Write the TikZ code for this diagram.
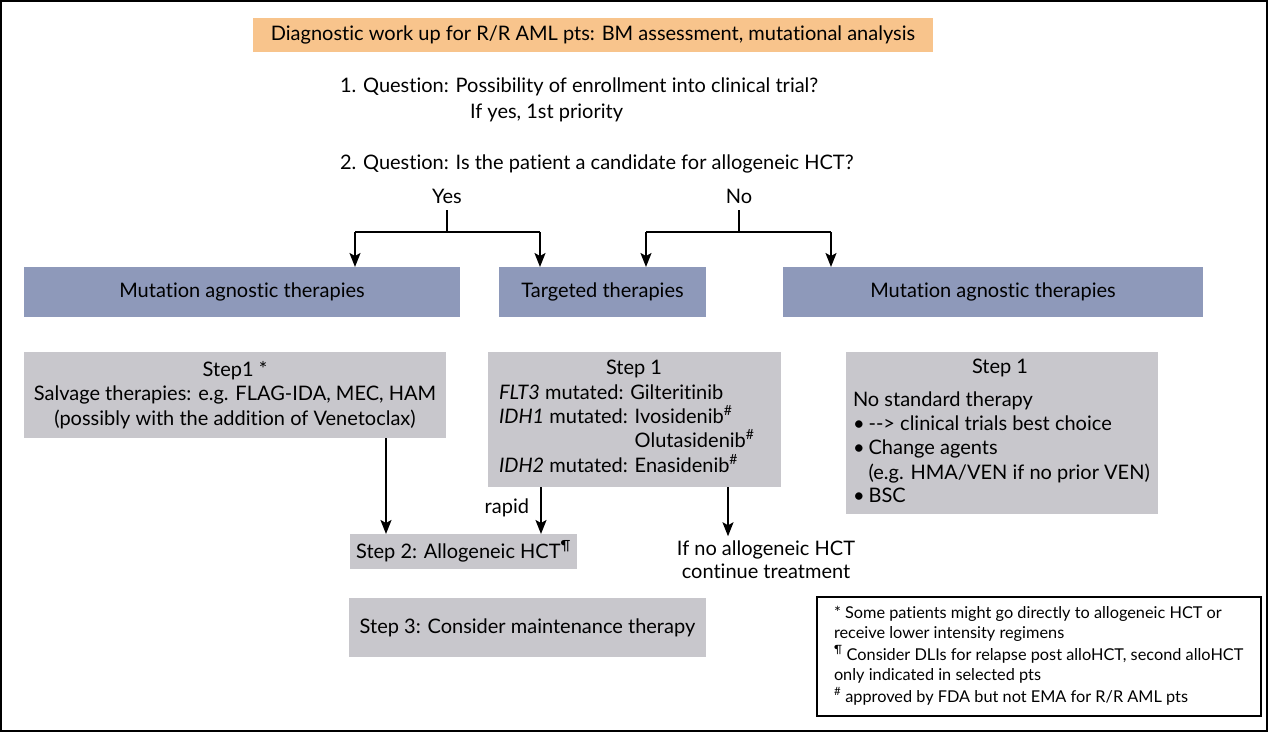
\documentclass[tikz,border=0pt]{standalone}
\usepackage{fontspec}
\setmainfont{Lato}[Ligatures={NoCommon}]
\usetikzlibrary{arrows.meta}
\definecolor{hdrc}{HTML}{F8C48C}
\definecolor{bluec}{HTML}{8E99BA}
\definecolor{greyc}{HTML}{C8C7CC}
\begin{document}
\begin{tikzpicture}[x=1pt,y=-1pt,
  every node/.style={inner sep=0pt,outer sep=0pt},
  mtxt/.style={font=\fontsize{20}{24.5}\selectfont},
  ftxt/.style={font=\fontsize{16.3}{20}\selectfont},
  hbox/.style={fill=hdrc,anchor=north west,mtxt},
  bbox/.style={fill=bluec,anchor=north west,mtxt,minimum height=50pt},
  gbox/.style={fill=greyc,anchor=north west,mtxt,align=center},
  link/.style={line width=1.8pt},
  arr/.style={line width=1.8pt,-{Stealth[length=14pt,width=11pt,inset=3pt]}}]
\useasboundingbox (0,0) rectangle (1270,733);
\draw[line width=1.4pt] (1,1) rectangle (1267,731);

% header and questions
\node[hbox,minimum width=680pt,minimum height=34pt] (hdr) at (253,18) {Diagnostic work up for R/R AML pts: BM assessment, mutational analysis};
\node[mtxt,anchor=base west] (q1) at (340,93) {1. Question: Possibility of enrollment into clinical trial?};
\node[mtxt,anchor=base west] (q1b) at (470,119) {If yes, 1st priority};
\node[mtxt,anchor=base west] (q2) at (340,170) {2. Question: Is the patient a candidate for allogeneic HCT?};
\node[mtxt,anchor=base] (yes) at (447,204) {Yes};
\node[mtxt,anchor=base] (no) at (739,204) {No};

% blue boxes
\node[bbox,minimum width=436pt] (mal) at (24,267) {Mutation agnostic therapies};
\node[bbox,minimum width=207pt] (tgt) at (499,267) {Targeted therapies};
\node[bbox,minimum width=420pt] (mar) at (783,267) {Mutation agnostic therapies};

% branch connectors
\coordinate (yj) at (447,232);
\coordinate (yl) at (355,232);
\coordinate (yr) at (540,232);
\coordinate (nj) at (739,232);
\coordinate (nl) at (646,232);
\coordinate (nr) at (831,232);
\draw[link,shorten <=6pt] (yes.south) -- (yj);
\draw[link] (yl) -- (yr);
\draw[arr] (yl) -- (yl |- mal.north);
\draw[arr] (yr) -- (yr |- tgt.north);
\draw[link,shorten <=6pt] (no.south) -- (nj);
\draw[link] (nl) -- (nr);
\draw[arr] (nl) -- (nl |- tgt.north);
\draw[arr] (nr) -- (nr |- mar.north);

% step 1 boxes
\node[gbox,minimum width=422pt,minimum height=86pt] (s1l) at (24,352) {Step1 *\\Salvage therapies: e.g. FLAG-IDA, MEC, HAM\\(possibly with the addition of Venetoclax)};
\node[gbox,minimum width=293pt,minimum height=135pt] (s1m) at (488,352) {};
\node[gbox,minimum width=312pt,minimum height=162pt] (s1r) at (846,352) {};

\node[mtxt,anchor=base] (m0) at (634,374) {Step 1};
\node[mtxt,anchor=base west] (m1) at (499,399) {\textit{FLT3} mutated: Gilteritinib};
\node[mtxt,anchor=base west] (m2) at (499,423) {\textit{IDH1} mutated: Ivosidenib\textsuperscript{\#}};
\node[mtxt,anchor=base west] (m3) at (499,447) {\phantom{\textit{IDH1} mutated: }Olutasidenib\textsuperscript{\#}};
\node[mtxt,anchor=base west] (m4) at (499,472) {\textit{IDH2} mutated: Enasidenib\textsuperscript{\#}};

\node[mtxt,anchor=base] (r0) at (1000,373) {Step 1};
\node[mtxt,anchor=base west] (r1) at (853,406) {No standard therapy};
\node[mtxt,anchor=base west] (r2) at (853,430) {•\hspace{4pt}\mbox{-}\mbox{-}> clinical trials best choice};
\node[mtxt,anchor=base west] (r3) at (853,454) {•\hspace{4pt}Change agents};
\node[mtxt,anchor=base west] (r4) at (853,479) {\phantom{•}\hspace{4pt}(e.g. HMA/VEN if no prior VEN)};
\node[mtxt,anchor=base west] (r5) at (853,502) {•\hspace{4pt}BSC};

% step 2, step 3
\node[gbox,minimum width=227pt,minimum height=35pt] (s2) at (350,534) {Step 2: Allogeneic HCT\textsuperscript{¶}};
\node[gbox,minimum width=357pt,minimum height=59pt] (s3) at (349,598) {Step 3: Consider maintenance therapy};

\node[mtxt,anchor=base] (c1) at (766,555) {If no allogeneic HCT};
\node[mtxt,anchor=base] (c2) at (766,578) {continue treatment};
\node[mtxt,anchor=base east] (rapid) at (529,513) {rapid};

\coordinate (a1) at (386,0);
\coordinate (a2) at (541,0);
\coordinate (a3) at (728,0);
\draw[arr] (s1l.south -| a1) -- (s2.north -| a1);
\draw[arr] (s1m.south -| a2) -- (s2.north -| a2);
\draw[arr,shorten >=4pt] (s1m.south -| a3) -- (c1.north -| a3);

% footnotes
\node[draw,line width=1.5pt,anchor=north west,minimum width=444pt,minimum height=119pt] (fn) at (817,597) {};
\node[ftxt,anchor=base west] (f1) at (834,618) {* Some patients might go directly to allogeneic HCT or};
\node[ftxt,anchor=base west] (f2) at (834,638) {receive lower intensity regimens};
\node[ftxt,anchor=base west] (f3) at (834,660) {\textsuperscript{¶} Consider DLIs for relapse post alloHCT, second alloHCT};
\node[ftxt,anchor=base west] (f4) at (834,680) {only indicated in selected pts};
\node[ftxt,anchor=base west] (f5) at (834,702) {\textsuperscript{\#} approved by FDA but not EMA for R/R AML pts};
\end{tikzpicture}
\end{document}
